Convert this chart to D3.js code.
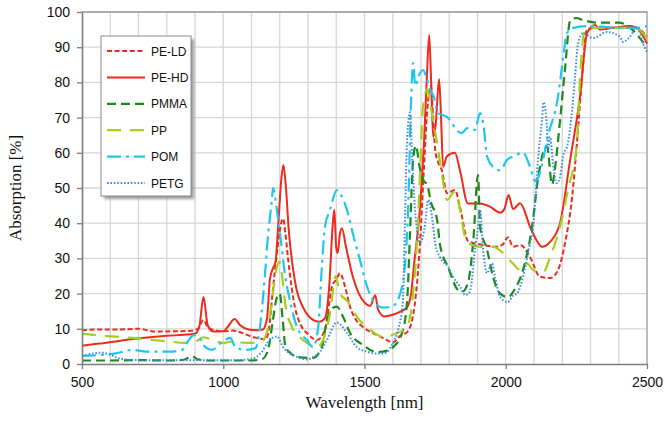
<!DOCTYPE html>
<html>
<head>
  <meta charset="utf-8">
  <title>Absorption spectra</title>
  <script src="https://d3js.org/d3.v7.min.js"></script>
  <style>
    body { margin: 0; background: #fff; }
  </style>
</head>
<body>
  <svg width="665" height="426"></svg>
  <script>
// data: [wavelength nm, absorption %]
const peLD = [[500,9.6],[560,9.8],[620,9.8],[700,10],[760,9.2],[820,9.3],[880,9.4],[910,10],[930,12.5],[945,10.5],[970,9.6],[1000,9.3],[1035,9.5],[1060,9],[1100,7.8],[1150,7],[1165,12],[1172,18],[1190,31.5],[1205,40],[1212,41.3],[1220,37],[1230,29.5],[1254,16],[1275,11],[1296,8.8],[1332,6.8],[1360,9.7],[1385,22],[1400,24],[1413,25.8],[1431,22],[1449,16.2],[1470,12.5],[1495,10.5],[1544,8.2],[1580,6.8],[1600,6],[1626,8],[1650,9],[1670,13],[1686,23],[1697,35],[1710,55],[1722,72],[1735,79],[1743,70],[1750,61],[1762,57],[1774,55],[1792,48.5],[1820,49.4],[1838,44.6],[1866,35],[1909,34],[1940,33.5],[1969,33.3],[1990,34],[2008,36],[2026,33.3],[2051,33.8],[2086,30.4],[2121,24.8],[2157,24.4],[2185,26.7],[2210,34.4],[2235,47.5],[2252,62.8],[2270,81.5],[2288,95],[2320,95.5],[2400,95.5],[2460,95.5],[2500,93]];

const peHD = [[500,5.2],[560,5.8],[620,6.4],[680,7.1],[740,7.6],[800,8],[860,8.3],[900,8.6],[915,10.5],[930,19],[945,11],[965,9.2],[1000,9.3],[1020,11],[1040,12.8],[1060,11],[1090,9.8],[1120,9.6],[1140,9.8],[1155,13],[1165,24],[1175,27],[1185,29],[1195,40],[1205,52],[1213,56.5],[1222,50],[1232,38],[1243,29.5],[1260,21],[1283,16],[1310,13],[1340,12],[1360,13],[1375,22],[1388,40],[1393,43.8],[1400,33],[1405,31.5],[1413,37],[1420,38.6],[1435,33],[1459,24.7],[1480,20],[1500,17.5],[1520,16.5],[1538,19.5],[1548,15.5],[1570,13.5],[1600,14],[1630,15],[1650,16],[1665,20],[1675,28],[1697,45],[1710,62],[1720,80],[1729,93.5],[1736,80],[1743,64.5],[1752,68],[1764,81],[1771,70],[1778,56],[1792,59],[1820,60],[1838,55],[1866,45.6],[1909,45.6],[1944,44.7],[1980,43],[1995,44],[2010,48],[2026,44],[2051,45.7],[2086,39],[2110,35],[2128,33.3],[2157,34.7],[2192,40],[2228,58],[2263,76],[2288,94],[2316,96.3],[2334,95],[2380,95.5],[2440,96],[2470,95],[2500,91]];

const pmma = [[500,1],[600,1],[700,1.1],[800,1],[860,1.2],[890,2.2],[910,1.3],[950,1],[1050,1],[1100,1],[1140,1.5],[1160,4.5],[1175,12],[1190,19],[1200,20],[1210,13],[1220,5],[1240,3],[1260,2],[1317,1.7],[1349,4.8],[1367,12.5],[1389,16],[1402,16.3],[1424,13.4],[1449,8.8],[1495,5.4],[1544,3.4],[1580,3.8],[1601,4.8],[1633,8.8],[1651,18],[1661,37],[1672,58],[1682,62],[1695,56],[1710,52],[1722,51],[1735,46],[1757,41],[1767,34],[1796,27.5],[1831,21],[1845,20.5],[1866,23],[1885,35],[1902,53.7],[1909,39],[1934,32.4],[1955,24.8],[1980,20],[2008,19],[2030,21],[2061,26.7],[2093,39],[2115,53],[2132,60],[2146,61.8],[2164,51],[2175,56],[2192,69],[2210,84],[2228,97.5],[2250,98.3],[2270,97.8],[2320,97],[2400,97],[2440,95.5],[2470,93],[2500,90]];

const pp = [[500,8.6],[580,8],[677,7.4],[795,6.5],[870,6],[905,6.5],[930,7.6],[950,7.2],[1000,6],[1024,6.3],[1084,6],[1120,6],[1141,6.8],[1160,11],[1172,18],[1190,27.6],[1200,29],[1210,24],[1218,18],[1243,10.5],[1283,6.8],[1332,4.8],[1353,6.8],[1378,14.4],[1398,25],[1413,20],[1438,18],[1473,13.4],[1520,9.7],[1566,7.7],[1615,8.8],[1650,10.5],[1672,20],[1686,35],[1697,55],[1707,73],[1722,78],[1733,74],[1743,69],[1757,62.8],[1774,54],[1792,46.6],[1820,49],[1838,43.8],[1856,36],[1866,34.4],[1909,33.3],[1955,33.3],[1987,31.8],[2026,28.5],[2051,26.7],[2075,28.6],[2097,26.7],[2132,26],[2157,30.4],[2192,39],[2220,49.4],[2252,62.8],[2263,81.5],[2281,95],[2320,95.5],[2400,95.5],[2460,95.5],[2500,92.5]];

const pom = [[500,2.3],[571,2.6],[620,3],[677,4],[736,3.5],[807,3.5],[854,4],[878,6.8],[895,8.2],[913,7.7],[937,4.8],[960,4],[996,6.3],[1025,7.4],[1043,4.8],[1078,4],[1114,4.5],[1130,10.5],[1148,25.8],[1159,37],[1172,46.6],[1176,50],[1190,43.8],[1201,37],[1218,25.8],[1236,18],[1261,10.5],[1296,6.8],[1318,4.8],[1336,10.5],[1349,27.6],[1360,39],[1378,43.8],[1402,49.4],[1420,47.5],[1438,43.8],[1459,37],[1484,29.5],[1509,22],[1537,17.3],[1566,16],[1601,16.5],[1633,22],[1654,43],[1665,75],[1672,85.5],[1680,79],[1690,81.5],[1707,83.5],[1722,80.7],[1732,78],[1745,76],[1760,71.3],[1792,70.2],[1810,68.5],[1820,67],[1845,65.6],[1863,67],[1891,66.5],[1909,71.3],[1920,68.5],[1934,59],[1955,56],[1980,55],[2005,58],[2026,59],[2061,60],[2086,56],[2104,52],[2115,53],[2150,65],[2185,76],[2200,85],[2217,94],[2240,95.5],[2300,96],[2400,95.5],[2460,95.5],[2500,96]];

const petg = [[500,2.3],[571,3.2],[642,1.4],[700,1.1],[795,1.1],[900,1.1],[972,1.1],[1050,1.1],[1102,1.5],[1137,3.5],[1161,6.5],[1190,7.8],[1212,4.8],[1236,3],[1261,2],[1296,1.3],[1318,2],[1343,3.5],[1367,6.8],[1402,11.8],[1438,8.8],[1473,4.8],[1509,3.5],[1540,3],[1566,3],[1601,6],[1620,10],[1636,18],[1643,40],[1650,62],[1661,71.5],[1668,60],[1679,43.8],[1697,34.4],[1715,40],[1725,46.6],[1739,41.8],[1750,34.4],[1767,30.4],[1796,27.6],[1813,24.8],[1838,22],[1856,19.6],[1873,20.5],[1891,32.4],[1902,39],[1909,43.8],[1920,32.4],[1934,25.8],[1951,28.6],[1962,24.8],[1980,19],[2008,17.6],[2026,19.5],[2040,20],[2061,24.8],[2086,34.4],[2097,39],[2104,45.7],[2114,58],[2128,69],[2134,74.4],[2146,67],[2150,61],[2157,64.5],[2167,57],[2181,51.4],[2192,53],[2203,59],[2220,62.8],[2235,72],[2245,81.5],[2256,91],[2274,94],[2309,92.6],[2358,94.3],[2404,93],[2415,91.5],[2440,93],[2465,95.8],[2486,91],[2500,88.6]];

const seriesNames = ['PE-LD', 'PE-HD', 'PMMA', 'PP', 'POM', 'PETG'];
const seriesData = [peLD, peHD, pmma, pp, pom, petg];
const xTicks = [500, 1000, 1500, 2000, 2500];
const yTicks = [0, 10, 20, 30, 40, 50, 60, 70, 80, 90, 100];

// styles per series
const colors = ['#ec2b1d', '#ec2b1d', '#1b8a1b', '#a6cf1c', '#1fc6f2', '#3d8fe4'];
const dashes = ['5,2.6', null, '9,5', '14,9', '14,5,3,5', '1.6,1.8'];
const widths = [2, 2, 2.2, 2.2, 2.2, 2];

const svg = d3.select('svg');
const margin = { top: 12, right: 18, bottom: 62, left: 82 };
const width = 665 - margin.left - margin.right;
const height = 426 - margin.top - margin.bottom;

const g = svg.append('g')
  .attr('transform', `translate(${margin.left},${margin.top})`);

const x = d3.scaleLinear().domain([500, 2500]).range([0, width]);
const y = d3.scaleLinear().domain([0, 100]).range([height, 0]);

// gridlines
g.append('g')
  .selectAll('line')
  .data(d3.range(600, 2500, 100))
  .join('line')
  .attr('x1', d => x(d)).attr('x2', d => x(d))
  .attr('y1', 0).attr('y2', height)
  .attr('stroke', '#d6d6d6').attr('stroke-width', 1.3);

g.append('g')
  .selectAll('line')
  .data(yTicks.slice(1))
  .join('line')
  .attr('x1', 0).attr('x2', width)
  .attr('y1', d => y(d)).attr('y2', d => y(d))
  .attr('stroke', '#d6d6d6').attr('stroke-width', 1.3);

// frame top/right
g.append('path')
  .attr('d', `M0,0H${width}V${height}`)
  .attr('fill', 'none')
  .attr('stroke', '#9a9a9a')
  .attr('stroke-width', 1.3);

// lines
const line = d3.line()
  .x(d => x(d[0]))
  .y(d => y(d[1]))
  .curve(d3.curveMonotoneX);

const plot = g.append('g');
seriesData.forEach((s, i) => {
  plot.append('path')
    .datum(s)
    .attr('fill', 'none')
    .attr('stroke', colors[i])
    .attr('stroke-width', widths[i])
    .attr('stroke-dasharray', dashes[i])
    .attr('stroke-linejoin', 'round')
    .attr('d', line);
});

// axes
const xAxis = g.append('g')
  .attr('transform', `translate(0,${height})`)
  .call(d3.axisBottom(x).tickValues(xTicks).tickFormat(d3.format('d'))
    .tickSize(5).tickSizeOuter(0).tickPadding(8));
const yAxis = g.append('g')
  .call(d3.axisLeft(y).tickValues(yTicks).tickFormat(d3.format('d'))
    .tickSize(5).tickSizeOuter(0).tickPadding(7));

[xAxis, yAxis].forEach(a => {
  a.select('.domain').attr('stroke', '#7d7d7d').attr('stroke-width', 1.6);
  a.selectAll('.tick line').attr('stroke', '#7d7d7d').attr('stroke-width', 1.3);
  a.selectAll('.tick text')
    .attr('fill', '#111')
    .style('font-family', '"Liberation Sans", Arial, sans-serif')
    .style('font-size', '14px');
});

// axis titles
svg.append('text')
  .attr('x', margin.left + width / 2)
  .attr('y', 408)
  .attr('text-anchor', 'middle')
  .style('font-family', '"Liberation Serif", "Times New Roman", serif')
  .style('font-size', '17px')
  .attr('fill', '#111')
  .text('Wavelength [nm]');

svg.append('text')
  .attr('transform', `translate(21,${margin.top + height / 2}) rotate(-90)`)
  .attr('text-anchor', 'middle')
  .style('font-family', '"Liberation Serif", "Times New Roman", serif')
  .style('font-size', '17px')
  .attr('fill', '#111')
  .text('Absorption [%]');

// legend
const legend = svg.append('g').attr('transform', 'translate(101,36)');
const defs = svg.append('defs');
defs.append('filter').attr('id', 'blur')
  .append('feGaussianBlur').attr('stdDeviation', 1.5);

legend.append('rect')
  .attr('x', 3).attr('y', 3)
  .attr('width', 90).attr('height', 160)
  .attr('fill', '#9a9a9a')
  .attr('filter', 'url(#blur)');
legend.append('rect')
  .attr('width', 90).attr('height', 160)
  .attr('fill', '#fff')
  .attr('stroke', '#8a8a8a')
  .attr('stroke-width', 1);

seriesNames.forEach((name, i) => {
  const ly = 15 + i * 26.4;
  legend.append('line')
    .attr('x1', 6).attr('x2', 44)
    .attr('y1', ly).attr('y2', ly)
    .attr('stroke', colors[i])
    .attr('stroke-width', widths[i])
    .attr('stroke-dasharray', dashes[i]);
  legend.append('text')
    .attr('x', 50).attr('y', ly + 4.5)
    .style('font-family', '"Liberation Sans", Arial, sans-serif')
    .style('font-size', '12px')
    .attr('fill', '#111')
    .text(name);
});
  </script>
</body>
</html>
